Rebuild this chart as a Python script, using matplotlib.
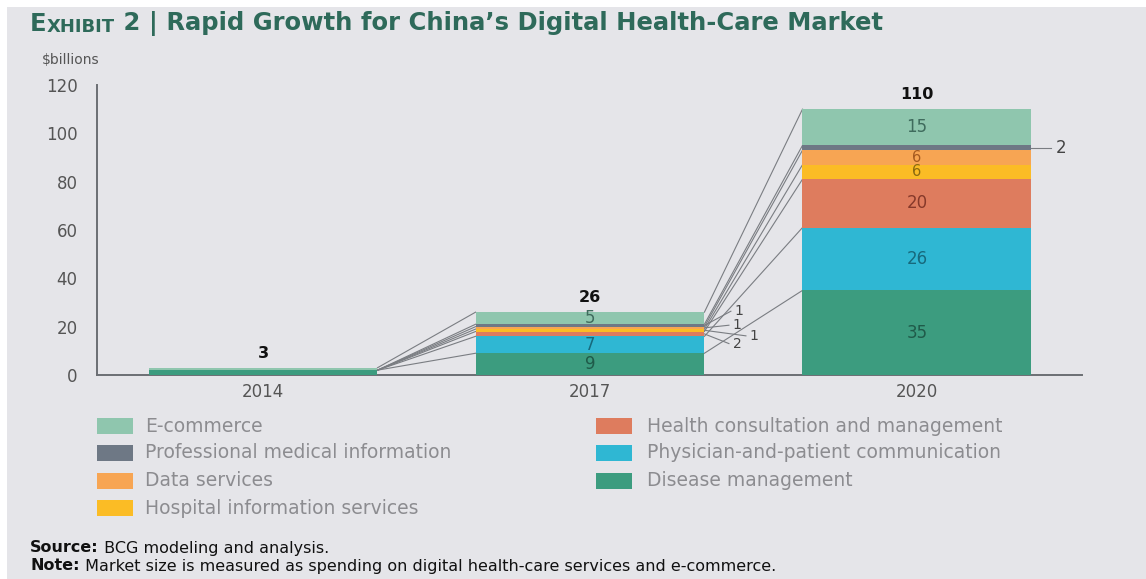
import matplotlib
matplotlib.use("Agg")
import matplotlib.pyplot as plt
from matplotlib.patches import Rectangle
import numpy as np

# ---------------- data ----------------
years = ["2014", "2017", "2020"]
disease = [2, 9, 35]
physician = [0, 7, 26]
health = [0, 2, 20]
hospital = [0, 1, 6]
data_services = [0, 1, 6]
professional = [0, 1, 2]
ecommerce = [1, 5, 15]
totals = [3, 26, 110]
y_ticks = [0, 20, 40, 60, 80, 100, 120]

# stacking order bottom -> top
stack_names = ["Disease management", "Physician-and-patient communication",
               "Health consultation and management", "Hospital information services",
               "Data services", "Professional medical information", "E-commerce"]
stack_values = [disease, physician, health, hospital, data_services, professional, ecommerce]
stack_colors = ["#3c9c7f", "#2fb7d3", "#de7c5e", "#fbbc25", "#f7a553", "#6e7885", "#8fc6ae"]
label_colors = ["#1f5a49", "#17697c", "#86392a", "#8a6a10", "#a55a20", "#333333", "#3f6b5d"]

legend_left = ["E-commerce", "Professional medical information", "Data services",
               "Hospital information services"]
legend_right = ["Health consultation and management", "Physician-and-patient communication",
                "Disease management"]

BG = "#e5e5e9"
FONT = "DejaVu Sans"

fig = plt.figure(figsize=(11.46, 5.79), dpi=100)
fig.patch.set_facecolor(BG)
# white frame strips (top / left) like the reference
fig.add_artist(Rectangle((0, 1 - 7 / 579), 1, 7 / 579, transform=fig.transFigure,
                         facecolor="white", edgecolor="none"))
fig.add_artist(Rectangle((0, 0), 7 / 1146, 1, transform=fig.transFigure,
                         facecolor="white", edgecolor="none"))

ax = fig.add_axes([97 / 1146, (579 - 375) / 579, (1082 - 97) / 1146, 290 / 579])
ax.set_facecolor(BG)
x = np.arange(len(years))
width = 0.70

bottoms = np.zeros(len(years))
tops_list = []
for name, vals, col in zip(stack_names, stack_values, stack_colors):
    vals = np.array(vals, dtype=float)
    ax.bar(x, vals, width, bottom=bottoms, color=col, edgecolor="none", zorder=3)
    bottoms = bottoms + vals
    tops_list.append(bottoms.copy())

# connector lines between bars
for tops in tops_list:
    for i in range(len(years) - 1):
        ax.plot([x[i] + width / 2, x[i + 1] - width / 2], [tops[i], tops[i + 1]],
                color="#7a7d82", lw=0.8, zorder=2)

# labels inside segments
cum = np.zeros(len(years))
inside = {1: [0, 1, 6], 2: [0, 1, 2, 3, 4, 6]}
for k, (vals, lc) in enumerate(zip(stack_values, label_colors)):
    vals = np.array(vals, dtype=float)
    for i in range(len(years)):
        if i in inside and k in inside[i]:
            fs = 10.5 if (i == 2 and vals[i] < 8) else 12
            ax.text(x[i], cum[i] + vals[i] / 2, f"{int(vals[i])}", ha="center", va="center",
                    fontsize=fs, color=lc, family=FONT, zorder=4)
    cum = cum + vals

# outside labels for 2017 small segments (health, hospital, data, professional)
out_2017 = {2: (1.437, 13.0), 3: (1.489, 16.2), 4: (1.437, 20.6), 5: (1.443, 26.4)}
cum = np.zeros(len(years))
mids = []
for vals in stack_values:
    vals = np.array(vals, dtype=float)
    mids.append(cum + vals / 2)
    cum = cum + vals
for k, (lx, ly) in out_2017.items():
    ax.plot([x[1] + width / 2, lx - 0.012], [mids[k][1], ly], color="#7a7d82", lw=0.8, zorder=2)
    ax.text(lx, ly, f"{int(stack_values[k][1])}", ha="left", va="center", fontsize=10,
            color="#444444", family=FONT)
# outside label for 2020 professional
ax.plot([x[2] + width / 2, 2.41], [mids[5][2], mids[5][2]], color="#7a7d82", lw=0.8)
ax.text(2.425, mids[5][2], f"{int(stack_values[5][2])}", ha="left", va="center",
        fontsize=12, color="#444444", family=FONT)

# totals
for i, t in enumerate(totals):
    ax.text(x[i], t + 3, f"{t}", ha="center", va="bottom", fontsize=11.5, fontweight="bold",
            color="#111111", family=FONT)

ax.set_xlim(-0.508, 2.505)
ax.set_ylim(0, 120)
ax.set_yticks(y_ticks)
ax.set_yticklabels([str(v) for v in y_ticks], family=FONT, fontsize=12, color="#555555")
ax.set_xticks(x)
ax.set_xticklabels(years, family=FONT, fontsize=12, color="#555555")
ax.tick_params(axis="y", length=0, pad=14)
ax.tick_params(axis="x", length=0, pad=6)
for s in ["top", "right"]:
    ax.spines[s].set_visible(False)
for s in ["left", "bottom"]:
    ax.spines[s].set_color("#6b6e73")
    ax.spines[s].set_linewidth(1.4)

fig.text(42 / 1146, 1 - 60 / 579, "$billions", fontsize=10, color="#555555", family=FONT,
         va="center", ha="left")

# title with small caps "EXHIBIT"
title_color = "#2e6a5a"
t1 = fig.text(30 / 1146, 1 - 31 / 579, "E", fontsize=17.5, fontweight="bold", color=title_color,
              family=FONT, va="baseline", ha="left")
t2 = ax.annotate("XHIBIT", xy=(1, 0), xycoords=t1, fontsize=13, fontweight="bold",
                 color=title_color, family=FONT, va="bottom", ha="left")
ax.annotate(" 2 | Rapid Growth for China\u2019s Digital Health-Care Market", xy=(1, 0),
            xycoords=t2, fontsize=17.5, fontweight="bold", color=title_color, family=FONT,
            va="bottom", ha="left")

# legend (manual, two columns)
row_y = [426, 453, 481, 508]
for j, name in enumerate(legend_left):
    col = stack_colors[stack_names.index(name)]
    fig.add_artist(Rectangle((97 / 1146, 1 - (row_y[j] + 8) / 579), 36 / 1146, 16 / 579,
                             transform=fig.transFigure, facecolor=col, edgecolor="none"))
    fig.text(145 / 1146, 1 - row_y[j] / 579, name, fontsize=13.5, color="#8c8c90", family=FONT,
             va="center", ha="left")
for j, name in enumerate(legend_right):
    col = stack_colors[stack_names.index(name)]
    fig.add_artist(Rectangle((596 / 1146, 1 - (row_y[j] + 8) / 579), 36 / 1146, 16 / 579,
                             transform=fig.transFigure, facecolor=col, edgecolor="none"))
    fig.text(647 / 1146, 1 - row_y[j] / 579, name, fontsize=13.5, color="#8c8c90", family=FONT,
             va="center", ha="left")

# footnotes
s1 = fig.text(30 / 1146, 1 - 548 / 579, "Source:", fontsize=11.5, fontweight="bold",
              color="#111111", family=FONT, va="center", ha="left")
ax.annotate(" BCG modeling and analysis.", xy=(1, 0), xycoords=s1, fontsize=11.5,
            color="#111111", family=FONT, va="bottom", ha="left")
n1 = fig.text(30 / 1146, 1 - 566 / 579, "Note:", fontsize=11.5, fontweight="bold",
              color="#111111", family=FONT, va="center", ha="left")
ax.annotate(" Market size is measured as spending on digital health-care services and e-commerce.",
            xy=(1, 0), xycoords=n1, fontsize=11.5, color="#111111", family=FONT,
            va="bottom", ha="left")

fig.savefig("out.png", dpi=100, facecolor=fig.get_facecolor())
